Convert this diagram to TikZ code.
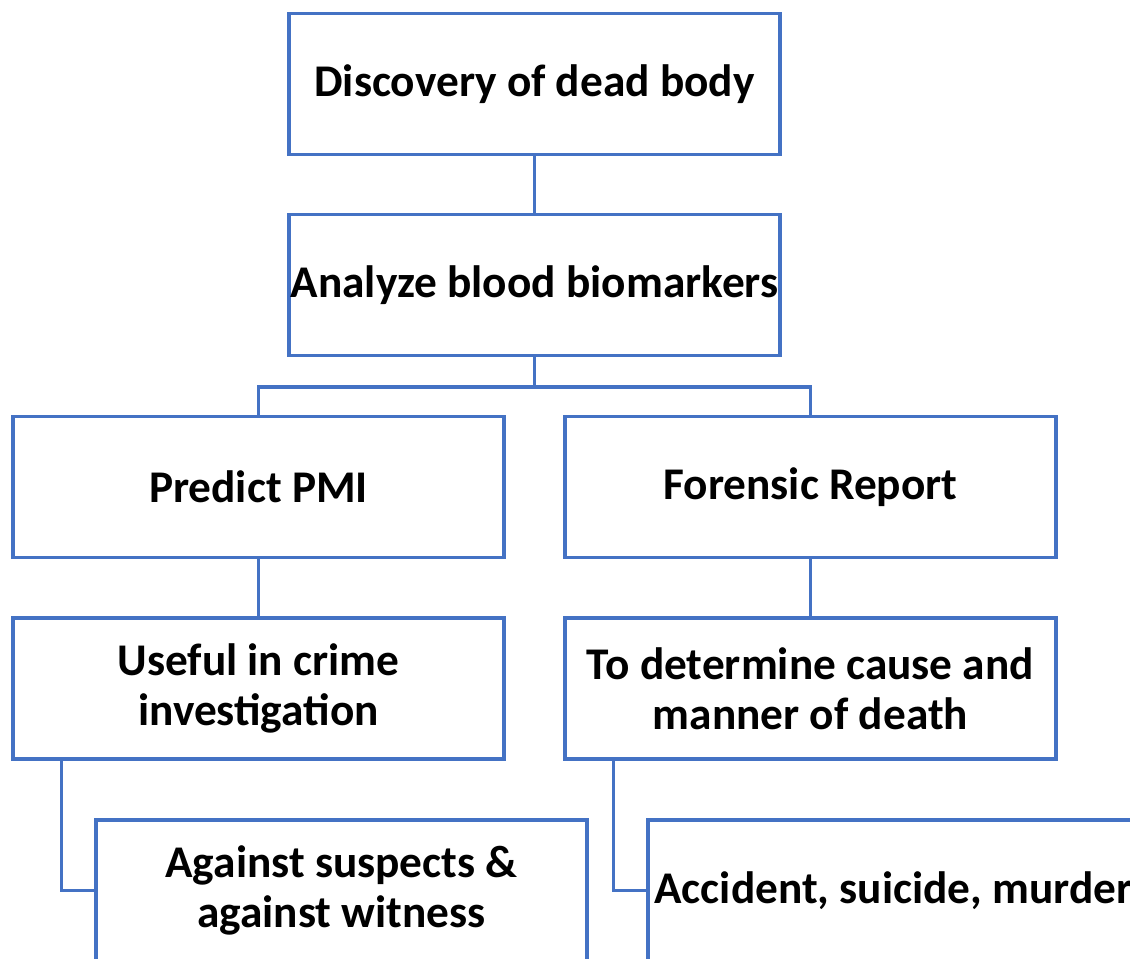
\documentclass[tikz,border=0pt]{standalone}
\usepackage{fontspec}
\setmainfont{Carlito}
\definecolor{boxblue}{RGB}{68,114,196}

\begin{document}
\begin{tikzpicture}[x=0.75pt,y=-0.75pt,
    box/.style={draw=boxblue,line width=2.6pt,minimum width=368pt,
      minimum height=105.5pt,inner sep=0pt,align=center,
      font=\bfseries\fontsize{34}{37.5}\selectfont},
    link/.style={draw=boxblue,line width=2.6pt}]
  \useasboundingbox (0,0) rectangle (1130,958);
  \clip (0,0) rectangle (1130,958);

  % top of the chart
  \node[box] (disc) at (534.5,84) {Discovery of dead body};
  \node[box] (anal) at (534.5,285) {Analyze blood biomarkers};

  % two branches
  \node[box] (pmi) at (258.5,487) {Predict PMI};
  \node[box] (rep) at (810.5,487) {Forensic Report};
  \node[box] (crime) at (258.5,688.5) {Useful in crime\\investigation};
  \node[box] (cause) at (810.5,688.5) {To determine cause and\\manner of death};

  % last row, cut off by the frame
  \node[box] (susp) at (341.5,890.5) {Against suspects \&\\against witness};
  \node[box] (acc) at (893.5,890.5) {Accident, suicide, murder};

  \draw[link] (disc) -- (anal);
  \draw[link] (anal.south) -- ++(0,30) coordinate (split);
  \draw[link] (pmi.north) |- (split) -| (rep.north);
  \draw[link] (pmi) -- (crime);
  \draw[link] (rep) -- (cause);
  \draw[link] ([xshift=37.5pt]crime.south west) |- (susp.west);
  \draw[link] ([xshift=37.5pt]cause.south west) |- (acc.west);
\end{tikzpicture}
\end{document}
